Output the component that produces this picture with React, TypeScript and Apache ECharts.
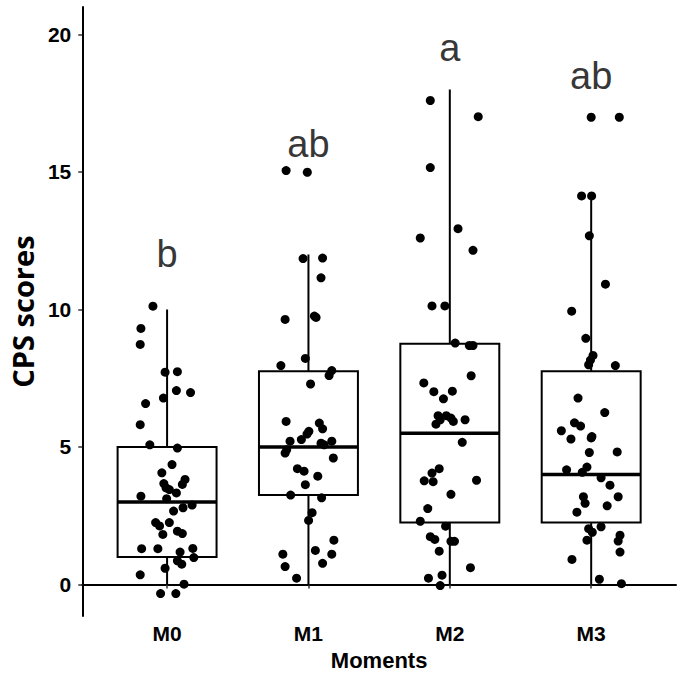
import React, { useEffect, useRef } from "react";
import * as echarts from "echarts";

const categories = ["M0", "M1", "M2", "M3"];
const boxMin = [0, 0, 0, 0];
const boxQ1 = [1, 3.25, 2.25, 2.25];
const boxMedian = [3, 5, 5.5, 4];
const boxQ3 = [5, 7.75, 8.75, 7.75];
const boxMax = [10, 12, 18, 14.1];
const letters = ["b", "ab", "a", "ab"];
const letterY = [12, 16, 19.5, 18.5];
const yTicks = [0, 5, 10, 15, 20];

// jittered points: [horizontal jitter offset, score]
const m0Points = [
  [-0.1, 10.12], [-0.185, 9.31], [-0.19, 8.73], [-0.014, 7.72], [0.073, 7.74], [0.066, 7.05],
  [0.166, 6.98], [-0.026, 6.78], [-0.152, 6.58], [-0.19, 5.81], [-0.122, 5.08], [0.073, 4.96],
  [0.035, 4.36], [-0.037, 4.06], [0.127, 3.82], [0.108, 3.64], [-0.023, 3.67], [-0.007, 3.51],
  [0.016, 3.45], [0.066, 3.33], [-0.185, 3.21], [-0.003, 3.12], [0.177, 2.89], [0.113, 2.79],
  [0.046, 2.67], [-0.081, 2.25], [0.016, 2.25], [-0.053, 2.13], [-0.03, 1.82], [0.073, 1.94],
  [0.108, 1.85], [-0.18, 1.3], [-0.065, 1.3], [0.092, 1.18], [0.182, 1.31], [0.189, 0.98],
  [0.073, 0.86], [0.104, 0.74], [-0.014, 0.59], [-0.19, 0.35], [0.12, 0.01], [-0.046, -0.33],
  [0.062, -0.33],
];
const m1Points = [
  [-0.158, 15.05], [-0.008, 14.99], [-0.038, 11.85], [0.1, 11.87], [0.089, 11.15], [-0.165, 9.64],
  [0.042, 9.76], [0.054, 9.71], [-0.022, 8.22], [-0.195, 7.96], [0.165, 7.78], [0.146, 7.6],
  [0.015, 7.29], [-0.158, 5.93], [0.077, 5.87], [0.1, 5.66], [0.003, 5.57], [-0.01, 5.47],
  [-0.05, 5.27], [-0.13, 5.21], [0.089, 5.14], [0.165, 5.21], [0.111, 5.08], [-0.154, 4.9],
  [-0.165, 4.78], [0.176, 4.6], [-0.078, 4.21], [-0.031, 4.12], [0.066, 3.94], [-0.022, 3.63],
  [-0.126, 3.25], [0.093, 3.15], [0.026, 2.61], [0.001, 2.33], [0.18, 1.61], [0.049, 1.24],
  [-0.181, 1.1], [0.165, 1.1], [0.1, 0.77], [-0.165, 0.65], [-0.084, 0.23],
];
const m2Points = [
  [-0.138, 17.6], [0.201, 17.01], [-0.138, 15.16], [0.058, 12.94], [-0.209, 12.6], [0.164, 12.15],
  [-0.126, 10.13], [-0.035, 10.13], [0.038, 8.78], [0.138, 8.69], [0.164, 8.69], [0.151, 7.59],
  [-0.184, 7.33], [-0.113, 7.01], [0.018, 7.03], [-0.045, 6.75], [-0.083, 6.14], [-0.025, 6.14],
  [0.008, 6.05], [0.108, 5.99], [-0.068, 5.99], [-0.098, 5.83], [0.025, 5.93], [0.088, 5.17],
  [-0.075, 4.21], [-0.126, 4.05], [-0.181, 3.77], [-0.118, 3.74], [0.189, 3.79], [0.008, 3.28],
  [-0.156, 2.76], [-0.209, 2.3], [-0.03, 2.12], [-0.138, 1.74], [-0.106, 1.64], [0.008, 1.57],
  [0.033, 1.57], [-0.075, 1.21], [0.146, 0.61], [-0.151, 0.23], [-0.055, 0.34], [-0.068, -0.04],
];
const m3Points = [
  [0, 16.99], [0.199, 16.99], [-0.068, 14.13], [0.003, 14.13], [-0.013, 12.68], [0.101, 10.92],
  [-0.138, 9.94], [-0.038, 8.95], [0.013, 8.33], [-0.005, 8.16], [-0.018, 7.99], [0.171, 7.96],
  [-0.093, 6.78], [0.096, 6.25], [-0.118, 5.88], [-0.075, 5.76], [-0.211, 5.59], [-0.143, 5.29],
  [0, 5.33], [0.005, 5.38], [-0.013, 4.8], [0.184, 4.82], [-0.174, 4.17], [-0.063, 4.08],
  [-0.03, 4.27], [0.07, 3.88], [0.133, 3.61], [-0.055, 3.19], [0.191, 3.19], [-0.043, 2.95],
  [0.113, 2.86], [-0.101, 2.63], [-0.018, 2.03], [0.07, 2.1], [0.008, 1.9], [-0.03, 1.61],
  [0.204, 1.79], [0.191, 1.58], [0.204, 1.18], [-0.136, 0.91], [0.058, 0.19], [0.214, 0.03],
];
const groupPoints = [m0Points, m1Points, m2Points, m3Points];

const BOX_HALF = 0.35;

export default function App() {
  const ref = useRef<HTMLDivElement>(null);
  useEffect(() => {
    if (!ref.current) return;
    const chart = echarts.init(ref.current, null, { renderer: "svg" });
    const boxData = categories.map((_, i) => [i + 1, boxMin[i], boxQ1[i], boxMedian[i], boxQ3[i], boxMax[i]]);
    const pointData: number[][] = [];
    groupPoints.forEach((pts, i) => {
      pts.forEach(([off, v]) => pointData.push([i + 1 + off, v]));
    });
    const letterData = categories.map((_, i) => ({ value: [i + 1, letterY[i]], name: letters[i] }));

    chart.setOption({
      animation: false,
      backgroundColor: "#ffffff",
      grid: { left: 71, right: 6, top: 7, bottom: 56, containLabel: false },
      xAxis: {
        type: "value",
        min: 0.4,
        max: 4.6,
        name: "Moments",
        nameLocation: "middle",
        nameGap: 31,
        nameTextStyle: { fontFamily: "Liberation Sans", fontWeight: "bold", fontSize: 22, color: "#000" },
        axisLine: { lineStyle: { color: "#000", width: 2 } },
        axisTick: { show: true, length: 4, customValues: [1, 2, 3, 4], lineStyle: { color: "#333", width: 1.5 } },
        axisLabel: {
          customValues: [1, 2, 3, 4],
          formatter: (v: number) => categories[Math.round(v) - 1] ?? "",
          margin: 7,
          fontFamily: "Liberation Sans",
          fontWeight: "bold",
          fontSize: 21,
          color: "#000",
        },
        splitLine: { show: false },
      },
      yAxis: {
        type: "value",
        min: -1.15,
        max: 21,
        name: "CPS scores",
        nameLocation: "middle",
        nameGap: 33,
        nameTextStyle: { fontFamily: "Open Sans", fontWeight: "bold", fontSize: 29, color: "#000" },
        axisLine: { show: true, lineStyle: { color: "#000", width: 2 } },
        axisTick: { show: true, length: 4, customValues: yTicks, lineStyle: { color: "#333", width: 1.5 } },
        axisLabel: {
          customValues: yTicks,
          margin: 11,
          fontFamily: "Liberation Sans",
          fontWeight: "bold",
          fontSize: 21,
          color: "#000",
        },
        splitLine: { show: false },
      },
      series: [
        {
          type: "custom",
          data: boxData,
          encode: { x: 0, y: [1, 2, 3, 4, 5] },
          z: 2,
          renderItem: (_params: any, api: any) => {
            const x = api.value(0);
            const lo = api.value(1);
            const q1 = api.value(2);
            const med = api.value(3);
            const q3 = api.value(4);
            const hi = api.value(5);
            const pHi = api.coord([x, hi]);
            const pLo = api.coord([x, lo]);
            const tl = api.coord([x - BOX_HALF, q3]);
            const br = api.coord([x + BOX_HALF, q1]);
            const mL = api.coord([x - BOX_HALF, med]);
            const mR = api.coord([x + BOX_HALF, med]);
            const stroke = { stroke: "#000", lineWidth: 2 };
            return {
              type: "group",
              children: [
                { type: "line", shape: { x1: pHi[0], y1: pHi[1], x2: pHi[0], y2: tl[1] }, style: stroke },
                { type: "line", shape: { x1: pLo[0], y1: br[1], x2: pLo[0], y2: pLo[1] }, style: stroke },
                {
                  type: "rect",
                  shape: { x: tl[0], y: tl[1], width: br[0] - tl[0], height: br[1] - tl[1] },
                  style: { fill: "#fff", stroke: "#000", lineWidth: 2 },
                },
                { type: "line", shape: { x1: mL[0], y1: mL[1], x2: mR[0], y2: mR[1] }, style: { stroke: "#000", lineWidth: 3.5 } },
              ],
            };
          },
        },
        {
          type: "scatter",
          data: pointData,
          symbolSize: 9,
          itemStyle: { color: "#000", opacity: 1 },
          z: 5,
        },
        {
          type: "scatter",
          data: letterData,
          symbolSize: 1,
          itemStyle: { color: "rgba(0,0,0,0)" },
          label: {
            show: true,
            position: "inside",
            formatter: (p: any) => p.name,
            fontFamily: "Liberation Sans",
            fontSize: 38,
            color: "#000",
            verticalAlign: "middle",
            align: "center",
          },
          z: 6,
        },
      ],
    });
    return () => chart.dispose();
  }, []);
  return <div ref={ref} style={{ width: 682, height: 676, position: "absolute", left: 0, top: 0 }} />;
}
